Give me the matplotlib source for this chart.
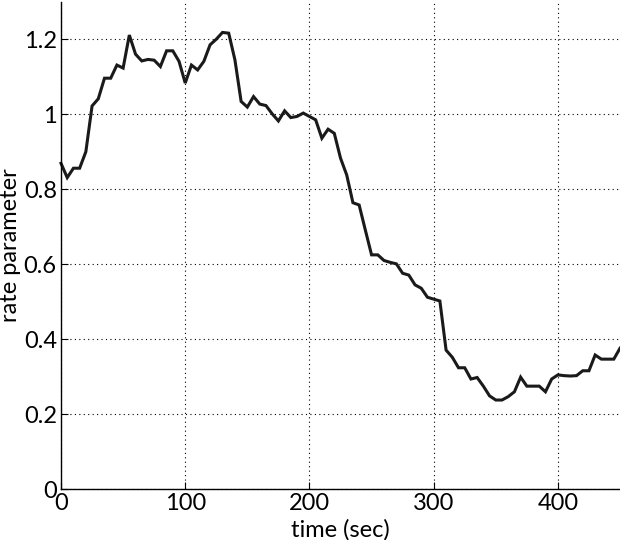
import matplotlib
matplotlib.use("Agg")
import matplotlib.pyplot as plt

time_sec = [0, 5, 10, 15, 20, 25, 30, 35, 40, 45, 50, 55, 60, 65, 70, 75, 80, 85, 90, 95,
            100, 105, 110, 115, 120, 125, 130, 135, 140, 145, 150, 155, 160, 165, 170, 175,
            180, 185, 190, 195, 200, 205, 210, 215, 220, 225, 230, 235, 240, 245, 250, 255,
            260, 265, 270, 275, 280, 285, 290, 295, 300, 305, 310, 315, 320, 325, 330, 335,
            340, 345, 350, 355, 360, 365, 370, 375, 380, 385, 390, 395, 400, 405, 410, 415,
            420, 425, 430, 435, 440, 445, 450]

rate = [0.869, 0.831, 0.856, 0.856, 0.900, 1.022, 1.041, 1.096, 1.096, 1.131,
        1.123, 1.211, 1.160, 1.142, 1.146, 1.144, 1.127, 1.169, 1.169, 1.141,
        1.083, 1.131, 1.118, 1.141, 1.185, 1.200, 1.218, 1.216, 1.145, 1.034,
        1.019, 1.047, 1.027, 1.023, 1.001, 0.982, 1.009, 0.991, 0.994, 1.003,
        0.994, 0.985, 0.936, 0.960, 0.949, 0.883, 0.838, 0.764, 0.758, 0.691,
        0.625, 0.625, 0.610, 0.605, 0.601, 0.576, 0.571, 0.545, 0.536, 0.512,
        0.507, 0.502, 0.371, 0.352, 0.324, 0.324, 0.294, 0.298, 0.275, 0.249,
        0.238, 0.238, 0.247, 0.260, 0.299, 0.275, 0.275, 0.275, 0.260, 0.294,
        0.305, 0.303, 0.302, 0.303, 0.316, 0.316, 0.358, 0.347, 0.347, 0.347,
        0.376]

x_ticks = [0, 100, 200, 300, 400]
x_tick_labels = ["0", "100", "200", "300", "400"]
y_ticks = [0, 0.2, 0.4, 0.6, 0.8, 1.0, 1.2]
y_tick_labels = ["0", "0.2", "0.4", "0.6", "0.8", "1", "1.2"]

plt.rcParams['font.family'] = ['Lato', 'DejaVu Sans']

fig = plt.figure(figsize=(6.2, 5.4), dpi=100)
ax = fig.add_axes([0.0984, 0.0939, 0.9016, 0.903])

ax.plot(time_sec, rate, color="#1a1a1a", linewidth=2.2, solid_joinstyle="miter", clip_on=False)

ax.set_xlim(0, 450)
ax.set_ylim(0, 1.3)
ax.set_xticks(x_ticks)
ax.set_xticklabels(x_tick_labels)
ax.set_yticks(y_ticks)
ax.set_yticklabels(y_tick_labels)

ax.grid(True, color="black", linestyle=(0, (1, 3)), linewidth=0.8)
ax.tick_params(direction="in", length=5, width=0.8, labelsize=17, pad=3)
for s in ["top", "right"]:
    ax.spines[s].set_visible(False)
for s in ["left", "bottom"]:
    ax.spines[s].set_linewidth(1.0)

ax.set_xlabel("time (sec)", fontsize=17, labelpad=3)
ax.set_ylabel("rate parameter", fontsize=17, labelpad=2)

fig.savefig("out.png", dpi=100)
